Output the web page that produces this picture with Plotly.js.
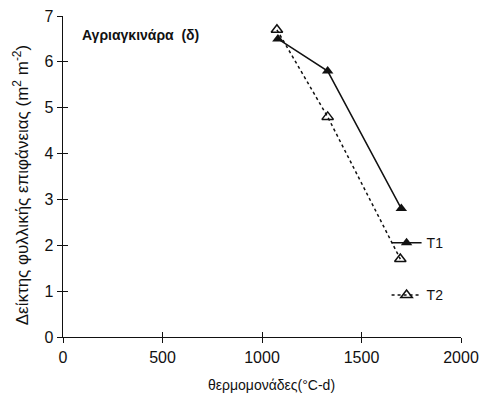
<!DOCTYPE html>
<html>
<head>
<meta charset="utf-8">
<script src="https://cdn.plot.ly/plotly-3.0.1.min.js"></script>
<style>
  html, body { margin: 0; padding: 0; background: #fff; }
  #chart { width: 480px; height: 407px; }
</style>
</head>
<body>
<div id="chart"></div>
<script>
// Leaf area index of wild artichoke against accumulated thermal units
const seriesNames = ['T1', 'T2'];
const t1Gdd = [1080, 1330, 1700];
const t1Lai = [6.5, 5.8, 2.8];
const t2Gdd = [1075, 1330, 1695];
const t2Lai = [6.7, 4.8, 1.7];

const xTicks = [0, 500, 1000, 1500, 2000];
const yTicks = [0, 1, 2, 3, 4, 5, 6, 7];

const FONT = 'Liberation Sans, Arial, sans-serif';

const traces = [
  {
    x: t1Gdd, y: t1Lai, name: seriesNames[0], legendgroup: 'a',
    mode: 'lines+markers', type: 'scatter',
    line: { color: '#111', width: 1.5 },
    marker: { symbol: 'triangle-up', size: 10, color: '#111' }
  },
  {
    x: t2Gdd, y: t2Lai, name: seriesNames[1], legendgroup: 'b',
    mode: 'lines+markers', type: 'scatter',
    line: { color: '#111', width: 1.5, dash: 'dot' },
    marker: { symbol: 'triangle-up-open', size: 10, color: '#111', line: { width: 1.5, color: '#111' } }
  }
];

// Overlaid axes supply the inward half of the crossing tick marks
const axisBase = {
  showgrid: false, zeroline: false, showline: true,
  linecolor: '#111', linewidth: 1.3,
  tickcolor: '#111', tickwidth: 1, ticklen: 5
};

const layout = {
  width: 480, height: 407,
  margin: { l: 63, r: 19, t: 16, b: 70 },
  paper_bgcolor: '#fff', plot_bgcolor: '#fff',
  font: { family: FONT, color: '#111', size: 16 },
  showlegend: true,
  legend: {
    x: 0.813, y: 0.342, xanchor: 'left', yanchor: 'top',
    bgcolor: 'rgba(0,0,0,0)', borderwidth: 0,
    font: { family: FONT, size: 14, color: '#111' },
    tracegroupgap: 31
  },
  xaxis: Object.assign({}, axisBase, {
    range: [0, 2000], tickmode: 'array', tickvals: xTicks, ticks: 'outside',
    tickfont: { family: FONT, size: 16 }
  }),
  yaxis: Object.assign({}, axisBase, {
    range: [0, 7], tickmode: 'array', tickvals: yTicks, ticks: 'outside',
    tickfont: { family: FONT, size: 16 }
  }),
  xaxis2: Object.assign({}, axisBase, {
    range: [0, 2000], overlaying: 'x', anchor: 'y', side: 'bottom',
    tickmode: 'array', tickvals: xTicks, ticks: 'inside', showticklabels: false
  }),
  yaxis2: Object.assign({}, axisBase, {
    range: [0, 7], overlaying: 'y', anchor: 'x', side: 'left',
    tickmode: 'array', tickvals: yTicks, ticks: 'inside', showticklabels: false
  }),
  annotations: [
    {
      text: '<b>Αγριαγκινάρα  (δ)</b>', xref: 'paper', yref: 'paper',
      x: 0.043, y: 0.941, xanchor: 'left', yanchor: 'middle', showarrow: false,
      font: { family: FONT, size: 14, color: '#111' }
    },
    {
      // x-axis title, set slightly right of the plot centre
      text: 'θερμομονάδες(°C-d)', xref: 'paper', yref: 'paper',
      x: 0.523, y: -0.148, xanchor: 'center', yanchor: 'middle', showarrow: false,
      font: { family: FONT, size: 14, color: '#111' }
    },
    {
      // y-axis title
      text: 'Δείκτης φυλλικής επιφάνειας (m<sup>2</sup> m<sup>-2</sup>)', xref: 'paper', yref: 'paper',
      x: -0.107, y: 0.474, xanchor: 'center', yanchor: 'middle', showarrow: false, textangle: -90,
      font: { family: FONT, size: 17, color: '#111' }
    }
  ]
};

// Empty trace so the overlaid axes are drawn
traces.push({ x: [], y: [], xaxis: 'x2', yaxis: 'y2', showlegend: false, hoverinfo: 'skip' });

Plotly.newPlot('chart', traces, layout, { staticPlot: true });
</script>
</body>
</html>
